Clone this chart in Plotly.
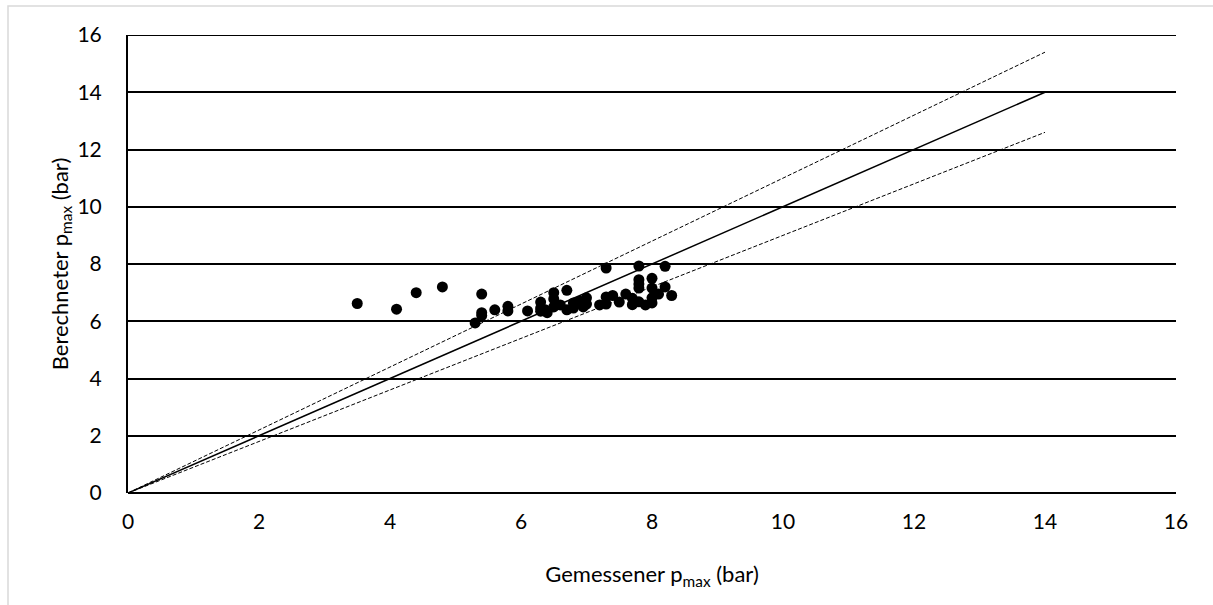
import plotly.graph_objects as go

# Measured vs calculated p_max (bar)
measured = [3.5, 4.1, 4.4, 4.8, 5.4, 5.4, 5.4, 5.3, 5.6, 5.8, 5.8, 6.1,
            6.3, 6.3, 6.3, 6.37, 6.4, 6.5, 6.5, 6.5, 6.6, 6.7, 6.7, 6.8,
            6.8, 6.9, 6.95, 7.0, 7.0, 7.2, 7.3, 7.3, 7.3, 7.4, 7.5, 7.6,
            7.7, 7.7, 7.8, 7.8, 7.8, 7.8, 7.8, 7.9, 8.0, 8.0, 8.0, 8.0,
            8.1, 8.2, 8.2, 8.3]
calculated = [6.62, 6.42, 7.0, 7.2, 6.95, 6.3, 6.2, 5.94, 6.4, 6.52, 6.36, 6.36,
              6.67, 6.46, 6.35, 6.4, 6.3, 7.0, 6.78, 6.5, 6.57, 7.08, 6.4, 6.64,
              6.46, 6.7, 6.5, 6.82, 6.6, 6.57, 7.86, 6.85, 6.6, 6.9, 6.67, 6.95,
              6.58, 6.8, 7.93, 7.45, 7.3, 7.16, 6.68, 6.57, 7.5, 7.16, 6.82, 6.64,
              6.95, 7.92, 7.2, 6.9]

ref_x = [0, 14]
ref_y = [0, 14]
upper_y = [0, 15.4]
lower_y = [0, 12.6]

x_ticks = [0, 2, 4, 6, 8, 10, 12, 14, 16]
y_ticks = [0, 2, 4, 6, 8, 10, 12, 14, 16]
y_max = 16

FONT = "Lato"
TICK_SIZE = 21
TITLE_SIZE = 22

fig = go.Figure()
fig.add_trace(go.Scatter(x=ref_x, y=upper_y, mode="lines",
                         line=dict(color="black", width=1, dash="4px,2px"),
                         showlegend=False, hoverinfo="skip"))
fig.add_trace(go.Scatter(x=ref_x, y=lower_y, mode="lines",
                         line=dict(color="black", width=1, dash="4px,2px"),
                         showlegend=False, hoverinfo="skip"))
fig.add_trace(go.Scatter(x=ref_x, y=ref_y, mode="lines",
                         line=dict(color="black", width=1.5),
                         showlegend=False, hoverinfo="skip"))
fig.add_trace(go.Scatter(x=measured, y=calculated, mode="markers",
                         marker=dict(color="black", size=11),
                         showlegend=False))

# top gridline at the axis maximum
fig.add_shape(type="line", xref="paper", yref="y", x0=0, x1=1,
              y0=y_max, y1=y_max, line=dict(color="black", width=2))

# light gray outer border (chart area frame)
fig.add_shape(type="rect", xref="paper", yref="paper",
              x0=(8 - 128) / 1048, x1=(1230 - 128) / 1048,
              y0=(493 - 620) / 458, y1=(493 - 6) / 458,
              line=dict(color="#d9d9d9", width=1.5), layer="below")

fig.update_layout(
    width=1213, height=605,
    margin=dict(l=128, r=37, t=35, b=112),
    paper_bgcolor="white", plot_bgcolor="white",
    font=dict(family=FONT, size=TICK_SIZE, color="black"),
    xaxis=dict(
        range=[0, 16], tickvals=x_ticks, showgrid=False, zeroline=False,
        showline=False, ticks="", ticklabelstandoff=14,
        tickfont=dict(size=TICK_SIZE, family=FONT),
        title=dict(text="Gemessener p<sub>max</sub> (bar)", standoff=34,
                   font=dict(size=TITLE_SIZE, family=FONT)),
    ),
    yaxis=dict(
        range=[0, 16], tickvals=y_ticks, showgrid=True, gridcolor="black",
        gridwidth=2, zeroline=True, zerolinecolor="black", zerolinewidth=2,
        showline=True, linecolor="black",
        linewidth=2, ticks="", ticklabelstandoff=20,
        tickfont=dict(size=TICK_SIZE, family=FONT),
        title=dict(text="Berechneter p<sub>max</sub> (bar)", standoff=3,
                   font=dict(size=TITLE_SIZE, family=FONT)),
    ),
)

fig.write_html("out.html")
